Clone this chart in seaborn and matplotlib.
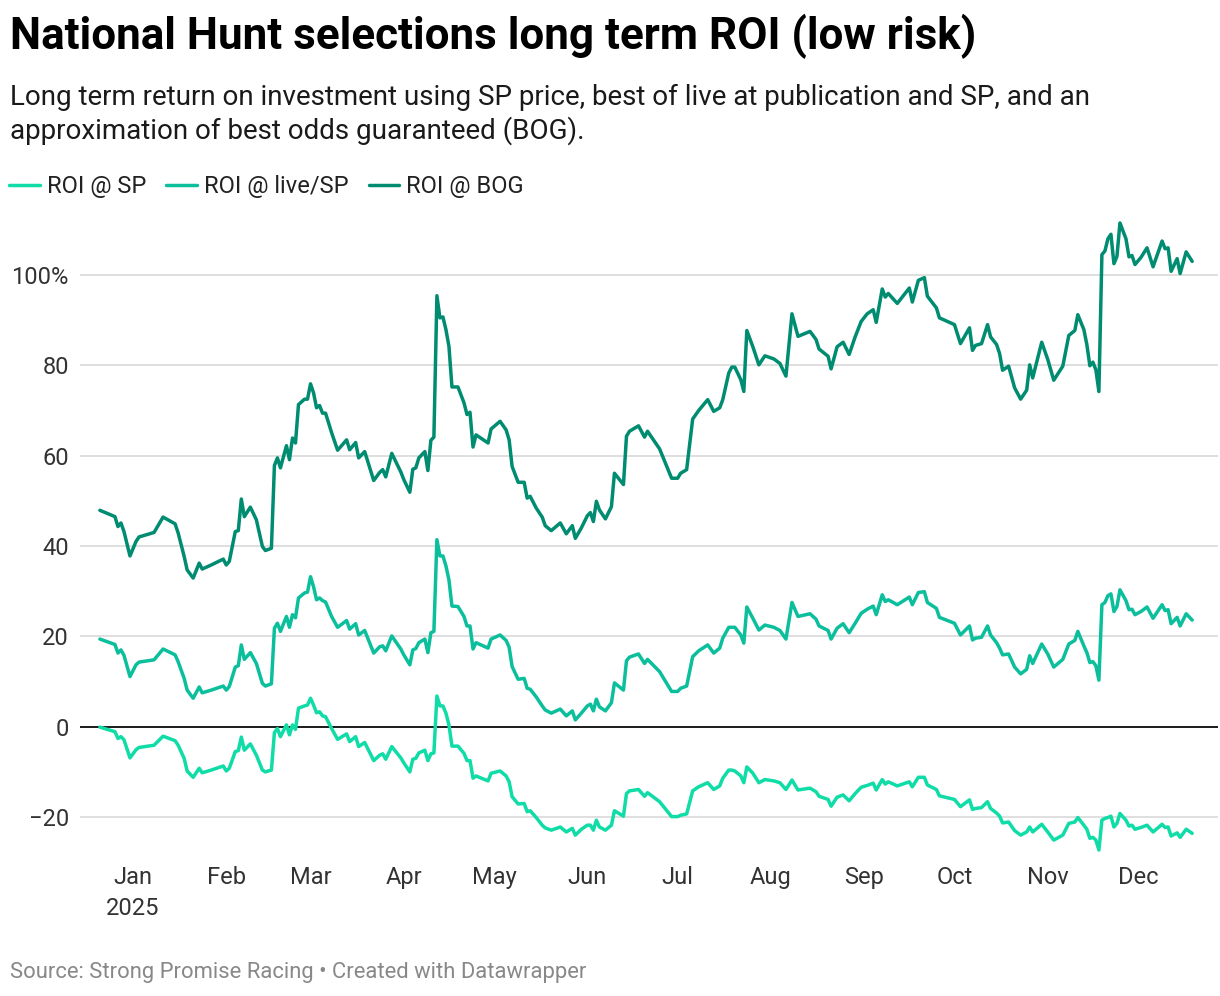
import pandas as pd
import matplotlib.pyplot as plt
import seaborn as sns

# days since 1 Jan 2025 for each published result
day = [-11, -6, -5, -4, -3, -1, 1, 2, 7, 10, 14, 15, 17, 18, 20, 22, 23, 26, 30, 31,
       32, 34, 35, 36, 37, 39, 41, 43, 44, 46, 47, 48, 49, 51, 52, 53, 54, 55, 57, 58,
       59, 60, 61, 62, 63, 64, 66, 68, 71, 72, 74, 75, 77, 80, 82, 83, 84, 86, 89, 90,
       92, 93, 94, 95, 97, 98, 99, 100, 101, 102, 103, 104, 105, 106, 108, 110, 111, 112, 113, 114,
       118, 119, 122, 124, 125, 126, 128, 130, 131, 132, 134, 136, 137, 139, 142, 144, 146, 147, 149, 151,
       152, 153, 154, 155, 157, 159, 160, 163, 164, 165, 168, 170, 171, 175, 179, 181, 182, 184, 186, 188,
       191, 193, 195, 196, 198, 199, 200, 202, 203, 204, 206, 208, 210, 213, 215, 217, 219, 221, 225, 227,
       228, 231, 232, 234, 236, 238, 240, 242, 244, 246, 247, 249, 250, 251, 254, 258, 259, 261, 263, 264,
       267, 268, 273, 275, 278, 279, 280, 282, 284, 285, 287, 288, 289, 291, 293, 295, 297, 298, 299, 302,
       304, 306, 309, 311, 313, 314, 316, 317, 318, 319, 320, 321, 322, 323, 324, 325, 326, 327, 328, 330,
       331, 332, 333, 335, 337, 339, 342, 343, 344, 345, 347, 348, 350, 352]

roi_bog = [47.9, 46.5, 44.3, 45.1, 43.2, 37.8, 41.0, 42.0, 43.0, 46.4, 44.9, 42.9, 37.7, 34.7, 32.9, 36.2, 34.9, 35.8, 37.1, 35.8,
           36.6, 43.2, 43.4, 50.4, 46.5, 48.6, 45.8, 39.9, 39.0, 39.5, 57.8, 59.5, 57.3, 62.2, 59.1, 63.9, 62.8, 71.3, 72.5, 72.5,
           75.9, 73.9, 70.6, 71.1, 69.4, 69.4, 65.1, 61.2, 63.5, 61.3, 62.9, 59.5, 60.9, 54.5, 56.3, 56.9, 55.3, 60.5, 56.4, 54.7,
           51.9, 57.0, 57.3, 59.5, 60.9, 56.7, 63.4, 64.1, 95.4, 90.5, 90.7, 87.9, 84.2, 75.2, 75.2, 71.7, 69.1, 69.6, 61.9, 64.6,
           62.8, 65.9, 67.6, 65.7, 63.5, 57.6, 54.1, 54.1, 50.6, 51.0, 48.4, 46.4, 44.5, 43.4, 45.1, 42.7, 44.5, 41.7, 44.0, 46.7,
           47.4, 45.4, 49.9, 48.0, 46.0, 48.7, 56.1, 53.6, 64.3, 65.4, 66.6, 64.1, 65.4, 61.5, 55.0, 55.0, 56.1, 56.9, 68.1, 70.0,
           72.4, 69.8, 70.6, 72.4, 78.3, 79.6, 79.6, 76.8, 74.2, 87.7, 84.1, 80.1, 82.1, 81.4, 80.4, 77.6, 91.4, 86.4, 87.5, 85.7,
           83.6, 82.0, 79.2, 84.1, 85.1, 82.4, 86.3, 89.7, 91.4, 92.3, 89.5, 96.9, 95.1, 95.9, 93.7, 97.1, 94.0, 98.8, 99.4, 95.3,
           92.7, 90.5, 89.0, 84.8, 88.3, 83.3, 84.4, 84.8, 89.0, 86.3, 84.6, 82.6, 78.9, 79.8, 75.0, 72.5, 74.5, 80.1, 77.2, 85.1,
           81.3, 76.7, 79.8, 86.6, 87.7, 91.2, 87.9, 84.6, 79.9, 80.7, 79.0, 74.2, 104.5, 105.3, 108.0, 109.0, 102.5, 104.1, 111.5, 108.0,
           104.0, 104.3, 102.3, 103.9, 106.0, 101.8, 107.5, 105.8, 106.0, 100.8, 103.6, 100.3, 105.1, 103.0]

roi_live = [19.4, 18.2, 16.3, 17.0, 15.8, 11.1, 13.7, 14.3, 14.8, 17.2, 15.9, 14.4, 10.7, 8.1, 6.3, 8.8, 7.5, 8.1, 9.0, 8.1,
            8.9, 13.2, 13.5, 18.1, 14.9, 16.4, 14.0, 9.6, 9.0, 9.5, 21.8, 22.9, 21.1, 24.4, 22.0, 24.8, 24.1, 28.5, 29.6, 29.8,
            33.2, 31.0, 28.1, 28.5, 27.9, 27.6, 24.4, 22.0, 23.5, 21.6, 22.8, 20.3, 21.3, 16.3, 17.7, 17.9, 16.8, 20.1, 17.2, 15.9,
            13.7, 17.0, 17.3, 18.6, 19.4, 16.4, 20.8, 21.1, 41.4, 37.8, 37.8, 35.6, 32.5, 26.7, 26.6, 24.4, 22.3, 22.3, 17.2, 18.6,
            17.4, 19.4, 20.3, 19.1, 17.6, 13.3, 10.5, 10.7, 8.5, 8.3, 6.6, 4.6, 3.7, 3.0, 3.9, 2.4, 3.5, 1.5, 3.0, 4.6,
            5.0, 3.5, 6.1, 4.4, 3.5, 5.3, 9.7, 8.1, 14.6, 15.4, 16.1, 14.0, 14.9, 12.2, 7.8, 7.8, 8.5, 9.0, 15.5, 16.8,
            18.1, 16.3, 17.4, 19.6, 22.0, 22.0, 22.0, 20.3, 18.5, 26.5, 24.0, 21.4, 22.5, 22.0, 21.3, 19.4, 27.5, 24.4, 25.0, 23.8,
            22.3, 21.3, 19.4, 21.8, 22.8, 20.8, 22.9, 25.1, 26.0, 26.7, 24.8, 29.2, 27.7, 28.1, 27.0, 28.7, 27.0, 29.7, 29.9, 27.5,
            26.2, 24.2, 22.9, 20.3, 22.3, 19.2, 19.6, 19.8, 22.3, 20.3, 18.6, 17.4, 15.9, 16.1, 13.2, 11.7, 12.7, 15.7, 14.0, 18.3,
            16.1, 13.2, 14.9, 18.3, 19.1, 21.1, 17.9, 16.4, 14.2, 14.4, 13.5, 10.3, 27.0, 27.5, 29.0, 29.4, 25.5, 26.6, 30.3, 27.9,
            25.9, 26.0, 24.8, 25.5, 26.5, 24.0, 27.0, 25.7, 25.9, 22.8, 24.2, 22.3, 25.0, 23.6]

roi_sp = [-0.1, -1.1, -2.6, -2.2, -2.9, -6.9, -5.1, -4.6, -4.1, -2.1, -3.1, -4.1, -7.0, -9.8, -11.2, -9.2, -10.2, -9.6, -8.7, -9.8,
          -9.2, -5.5, -5.3, -2.3, -5.2, -3.8, -6.3, -9.6, -10.0, -9.6, -1.3, -0.4, -2.2, 0.4, -1.8, 0.4, -0.6, 4.1, 4.6, 4.8,
          6.3, 4.8, 3.1, 3.3, 2.4, 2.2, -0.4, -2.8, -1.6, -3.3, -2.2, -4.4, -3.5, -7.5, -6.3, -6.0, -7.2, -4.4, -6.9, -8.0,
          -10.0, -7.2, -7.0, -5.8, -5.2, -7.5, -6.0, -5.8, 6.8, 4.6, 4.6, 3.0, 0.4, -4.3, -4.3, -5.9, -7.5, -7.5, -11.4, -10.9,
          -12.0, -10.3, -9.8, -10.9, -12.2, -15.5, -17.1, -17.0, -18.8, -18.6, -20.1, -21.8, -22.4, -22.9, -22.2, -23.3, -22.5, -24.0, -22.7, -21.8,
          -21.8, -22.9, -20.7, -22.2, -22.9, -21.8, -18.6, -19.8, -14.8, -14.2, -13.9, -15.4, -14.6, -16.6, -19.9, -19.9, -19.6, -19.3, -14.2, -13.3,
          -12.4, -13.9, -13.1, -11.4, -9.6, -9.6, -9.8, -10.9, -12.4, -8.9, -10.3, -12.4, -11.7, -12.0, -12.4, -13.9, -11.8, -14.0, -13.6, -14.4,
          -15.4, -16.1, -17.6, -15.6, -15.1, -16.4, -14.8, -13.4, -13.0, -12.5, -14.0, -11.7, -12.7, -12.2, -13.1, -12.2, -13.3, -11.2, -11.2, -12.9,
          -13.9, -15.3, -16.1, -17.7, -16.2, -18.3, -18.1, -17.9, -16.6, -18.1, -19.1, -19.8, -21.3, -21.1, -23.0, -24.0, -23.3, -22.2, -23.3, -21.6,
          -23.3, -25.1, -24.0, -21.4, -21.1, -20.1, -21.8, -22.7, -24.7, -24.5, -25.1, -27.3, -20.7, -20.3, -20.1, -19.8, -22.2, -21.4, -19.2, -20.7,
          -22.0, -21.8, -22.7, -22.3, -21.8, -23.3, -21.6, -22.3, -22.2, -24.2, -23.5, -24.5, -22.7, -23.6]

series_names = ['ROI @ SP', 'ROI @ live/SP', 'ROI @ BOG']
series_colors = ['#0fdca6', '#0bbf9d', '#008c71']

month_labels = ['Jan\n2025', 'Feb', 'Mar', 'Apr', 'May', 'Jun',
                'Jul', 'Aug', 'Sep', 'Oct', 'Nov', 'Dec']
y_ticks = [-20, 0, 20, 40, 60, 80, 100]

start = pd.Timestamp('2025-01-01')
dates = start + pd.to_timedelta(day, unit='D')
df = pd.concat([
    pd.DataFrame({'date': dates, 'roi': vals, 'series': name})
    for name, vals in zip(series_names, [roi_sp, roi_live, roi_bog])
])

sns.set_theme(style='white')
plt.rcParams['font.family'] = ['Roboto', 'DejaVu Sans']

fig = plt.figure(figsize=(12.2, 9.96), dpi=100)
ax = fig.add_axes([0.0656, 0.1343, 0.9328, 0.6577])

# gridlines, with the zero line in black
for y in y_ticks:
    if y == 0:
        ax.axhline(0, color='#1a1a1a', lw=1.4, zorder=1)
    else:
        ax.axhline(y, color='#d9d9d9', lw=1.2, zorder=0)

sns.lineplot(data=df, x='date', y='roi', hue='series', hue_order=series_names,
             palette=dict(zip(series_names, series_colors)), estimator=None,
             linewidth=2.5, ax=ax, zorder=3)

ax.set_xlim(start + pd.Timedelta(days=-17.6), start + pd.Timedelta(days=360.6))
ax.set_ylim(-30, 115)
ax.set_xlabel('')
ax.set_ylabel('')

ax.set_yticks(y_ticks)
ax.set_yticklabels(['\u221220', '0', '20', '40', '60', '80', '100%'])
month_ticks = pd.date_range('2025-01-01', '2025-12-01', freq='MS')
ax.set_xticks(month_ticks)
ax.set_xticklabels(month_labels, linespacing=1.4)
ax.tick_params(axis='both', length=0, labelsize=17, labelcolor='#333333')
ax.tick_params(axis='y', pad=8)
ax.tick_params(axis='x', pad=3)
for s in ax.spines.values():
    s.set_visible(False)
ax.grid(False)

sns.move_legend(ax, 'center left', bbox_to_anchor=(-0.0624, 1.0308), ncol=3, title=None,
                frameon=False, fontsize=17, handlelength=1.3, handletextpad=0.3,
                columnspacing=0.85, borderaxespad=0, borderpad=0)
for txt in ax.get_legend().get_texts():
    txt.set_color('#222222')

fig.text(10 / 1220, 1 - 14 / 996, 'National Hunt selections long term ROI (low risk)',
         fontsize=31.7, fontweight='bold', va='top', ha='left', color='#000000')
fig.text(10 / 1220, 1 - 84 / 996,
         'Long term return on investment using SP price, best of live at publication and SP, and an\n'
         'approximation of best odds guaranteed (BOG).',
         fontsize=20, va='top', ha='left', color='#1a1a1a', linespacing=1.22)
fig.text(10 / 1220, 1 - 972 / 996, 'Source: Strong Promise Racing \u2022 Created with Datawrapper',
         fontsize=15.8, va='center', ha='left', color='#888888')

fig.savefig('out.png', dpi=100, facecolor='white')
